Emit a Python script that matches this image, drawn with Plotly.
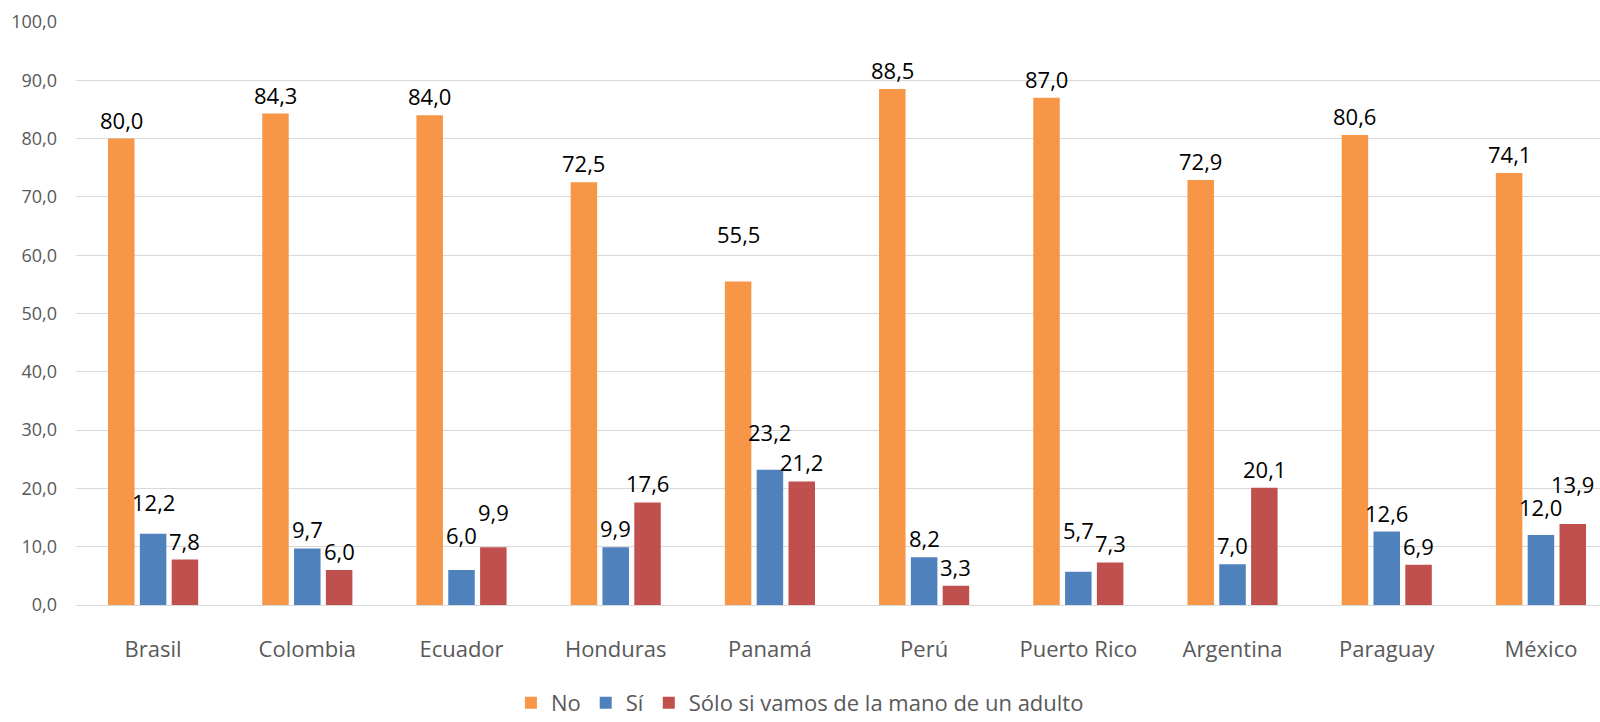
import plotly.graph_objects as go

categories = ["Brasil", "Colombia", "Ecuador", "Honduras", "Panamá", "Perú",
              "Puerto Rico", "Argentina", "Paraguay", "México"]
no_vals = [80.0, 84.3, 84.0, 72.5, 55.5, 88.5, 87.0, 72.9, 80.6, 74.1]
si_vals = [12.2, 9.7, 6.0, 9.9, 23.2, 8.2, 5.7, 7.0, 12.6, 12.0]
solo_vals = [7.8, 6.0, 9.9, 17.6, 21.2, 3.3, 7.3, 20.1, 6.9, 13.9]
series_names = ["No", "Sí", "Sólo si vamos de la mano de un adulto"]
y_ticks = [0, 10, 20, 30, 40, 50, 60, 70, 80, 90, 100]

# extra label lift (px) for labels that were moved in the original
no_lift = [0, 0, 0, 0, 28, 0, 0, 0, 0, 0]
si_lift = [13, 0, 16, 0, 19, 0, 23, 0, 0, 9]
solo_lift = [0, 0, 16, 0, 0, 0, 0, 0, 0, 21]

colors = ["#F79646", "#4F81BD", "#C0504D"]
FONT = "Open Sans"

def fmt(v):
    return f"{v:.1f}".replace(".", ",")

BARGAP = 0.381
slot = (1 - BARGAP) / 3

fig = go.Figure()
series = [no_vals, si_vals, solo_vals]
lift_lists = [no_lift, si_lift, solo_lift]
for i, (name, vals) in enumerate(zip(series_names, series)):
    fig.add_trace(go.Bar(
        x=categories, y=vals, name=name,
        marker=dict(color=colors[i], line=dict(width=0)),
    ))

annotations = []
for i, (vals, lifts) in enumerate(zip(series, lift_lists)):
    off = (i - 1) * slot
    for j, v in enumerate(vals):
        annotations.append(dict(
            x=j + off, y=v, xref="x", yref="y",
            text=fmt(v), showarrow=False,
            yanchor="middle", xanchor="center",
            yshift=19 + lifts[j],
            font=dict(family=FONT, size=22, color="#000000"),
        ))

fig.update_layout(
    width=1600, height=722,
    margin=dict(l=76, r=0, t=22, b=117, autoexpand=False),
    paper_bgcolor="white", plot_bgcolor="white",
    barmode="group", bargap=BARGAP, bargroupgap=0.167,
    separators=",.",
    font=dict(family=FONT, color="#595959"),
    annotations=annotations,
    legend=dict(
        orientation="h", x=0.475, xanchor="center",
        y=-0.168, yanchor="middle",
        font=dict(family=FONT, size=22, color="#595959"),
        itemwidth=30,
    ),
)
fig.update_xaxes(
    range=[-0.5, 9.383], showgrid=False, showline=False, zeroline=False,
    tickfont=dict(family=FONT, size=22, color="#595959"),
    ticks="", ticklabelstandoff=29, tickangle=0, automargin=False,
)
fig.update_yaxes(
    range=[0, 100], tickvals=y_ticks, tickformat=".1f",
    showgrid=True, gridcolor="#D9D9D9", gridwidth=1.3,
    zeroline=True, zerolinecolor="#D9D9D9", zerolinewidth=1.3,
    showline=False, ticks="", ticklabelstandoff=18, automargin=False,
    tickfont=dict(family=FONT, size=18, color="#595959"),
)

fig.write_html("out.html", config={"displayModeBar": False},
               post_script="document.body.style.margin='0';")
